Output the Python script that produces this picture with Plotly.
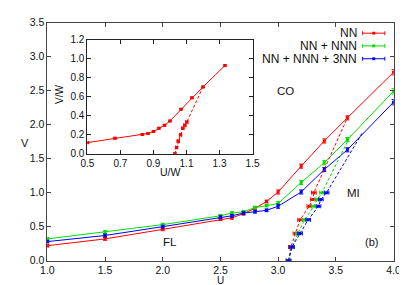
import plotly.graph_objects as go

# ---------------- data ----------------
U_main = [1.0, 1.5, 2.0, 2.5, 2.6, 2.7, 2.8, 2.9, 3.0, 3.2, 3.4, 3.6, 4.0]
V_nn = [0.22, 0.32, 0.46, 0.61, 0.63, 0.69, 0.77, 0.87, 1.01, 1.39, 1.76, 2.10, 2.77]
V_nnn = [0.32, 0.42, 0.53, 0.66, 0.70, 0.72, 0.78, 0.81, 0.84, 1.15, 1.44, 1.78, 2.49]
V_3nn = [0.28, 0.37, 0.50, 0.64, 0.66, 0.70, 0.72, 0.74, 0.80, 1.01, 1.34, 1.63, 2.33]
V_err = [0.02, 0.02, 0.02, 0.02, 0.02, 0.02, 0.02, 0.02, 0.03, 0.03, 0.03, 0.03, 0.04]

V_mi = [0.0, 0.2, 0.4, 0.6, 0.8, 0.9, 1.0]
U_mi_nn = [3.09, 3.11, 3.15, 3.19, 3.27, 3.30, 3.31]
U_mi_nnn = [3.09, 3.12, 3.17, 3.23, 3.31, 3.34, 3.38]
U_mi_3nn = [3.09, 3.12, 3.19, 3.26, 3.35, 3.37, 3.42]
U_mi_err = [0.02, 0.02, 0.02, 0.02, 0.02, 0.02, 0.02]
# where the dashed boundaries join the CO lines
U_end = {"nn": 3.6, "nnn": 3.63, "3nn": 3.73}
V_end = {"nn": 2.10, "nnn": 1.85, "3nn": 1.88}

UW_in = [0.5, 0.667, 0.833, 0.867, 0.9, 0.933, 0.967, 1.0, 1.067, 1.133, 1.2, 1.333]
VW_in = [0.118, 0.165, 0.205, 0.215, 0.235, 0.27, 0.30, 0.346, 0.47, 0.59, 0.705, 0.93]
UW_in_mi = [1.03, 1.04, 1.05, 1.064, 1.078, 1.09, 1.102, 1.2]
VW_in_mi = [0.0, 0.067, 0.135, 0.2, 0.27, 0.30, 0.335, 0.705]

series_names = ["NN", "NN + NNN", "NN + NNN + 3NN"]
colors = ["#ff0000", "#00e000", "#0000ff"]

x_ticks = [1.0, 1.5, 2.0, 2.5, 3.0, 3.5, 4.0]
y_ticks = [0.0, 0.5, 1.0, 1.5, 2.0, 2.5, 3.0, 3.5]
xi_ticks = [0.5, 0.7, 0.9, 1.1, 1.3, 1.5]
yi_ticks = [0.0, 0.2, 0.4, 0.6, 0.8, 1.0, 1.2]

FONT = "Liberation Sans, Arial, Helvetica, sans-serif"

fig = go.Figure()

# ---------------- main panel ----------------
for V, col in zip([V_nn, V_nnn, V_3nn], colors):
    fig.add_trace(go.Scatter(
        x=U_main, y=V, mode="lines+markers",
        line=dict(color=col, width=1),
        marker=dict(symbol="square", size=3, color=col),
        error_y=dict(type="data", array=V_err, color=col, thickness=1, width=2),
        showlegend=False, xaxis="x", yaxis="y"))

for Ux, key, col in zip([U_mi_nn, U_mi_nnn, U_mi_3nn], ["nn", "nnn", "3nn"], colors):
    xs = Ux + [U_end[key]]
    ys = V_mi + [V_end[key]]
    fig.add_trace(go.Scatter(
        x=xs, y=ys, mode="lines",
        line=dict(color=col, width=1, dash="3px,2px"),
        showlegend=False, xaxis="x", yaxis="y"))
    fig.add_trace(go.Scatter(
        x=Ux, y=V_mi, mode="markers",
        marker=dict(symbol="square", size=3, color=col),
        error_x=dict(type="data", array=U_mi_err, color=col, thickness=1, width=2),
        showlegend=False, xaxis="x", yaxis="y"))

# ---------------- inset ----------------
fig.add_trace(go.Scatter(
    x=UW_in, y=VW_in, mode="lines+markers",
    line=dict(color=colors[0], width=1),
    marker=dict(symbol="square", size=3, color=colors[0]),
    error_y=dict(type="constant", value=0.008, color=colors[0], thickness=1, width=2),
    showlegend=False, xaxis="x2", yaxis="y2"))
fig.add_trace(go.Scatter(
    x=UW_in_mi, y=VW_in_mi, mode="lines",
    line=dict(color=colors[0], width=1, dash="3px,2px"),
    showlegend=False, xaxis="x2", yaxis="y2"))
fig.add_trace(go.Scatter(
    x=UW_in_mi[:-1], y=VW_in_mi[:-1], mode="markers",
    marker=dict(symbol="square", size=3, color=colors[0]),
    error_x=dict(type="constant", value=0.007, color=colors[0], thickness=1, width=2),
    showlegend=False, xaxis="x2", yaxis="y2"))

W, H = 407, 285
def px(x):
    return x / W
def py(y):
    return 1 - y / H

def axis_style(size, lc):
    return dict(showgrid=False, zeroline=False, showline=True, linecolor=lc,
                linewidth=1, mirror="ticks", ticks="inside", ticklen=4,
                tickcolor=lc, tickformat=".1f",
                tickfont=dict(family=FONT, size=size, color="#111"))

fig.update_layout(
    width=W, height=H,
    margin=dict(l=0, r=0, t=0, b=0),
    paper_bgcolor="white", plot_bgcolor="white",
    font=dict(family=FONT, size=10, color="#111"),
    xaxis=dict(domain=[px(33.5), px(392)], range=[1.0, 4.0], tickvals=x_ticks,
               anchor="y", **axis_style(10.5, "#444")),
    yaxis=dict(domain=[py(257.5), py(9)], range=[0.0, 3.5], tickvals=y_ticks,
               anchor="x", **axis_style(10.5, "#444")),
    xaxis2=dict(domain=[px(75), px(246)], range=[0.5, 1.5], tickvals=xi_ticks,
                anchor="y2", **axis_style(10, "#222")),
    yaxis2=dict(domain=[py(146), py(27)], range=[0.0, 1.2], tickvals=yi_ticks,
                anchor="x2", **axis_style(10, "#222")),
)

ann = []
def text(x, y, s, xref="x", yref="y", size=11, **kw):
    ann.append(dict(x=x, y=y, xref=xref, yref=yref, text=s, showarrow=False,
                    xanchor="center", yanchor="middle",
                    font=dict(family=FONT, size=size, color="#111"), **kw))

# axis titles
text(px(10), py(135), "V", xref="paper", yref="paper", size=11)
text(px(213), py(278), "U", xref="paper", yref="paper", size=10)
text(px(46), py(84), "V/W", xref="paper", yref="paper", size=10, textangle=-90)
text(px(161), py(165), "U/W", xref="paper", yref="paper", size=10.5)
# region labels
text(3.06, 2.49, "CO", size=11.5)
text(3.65, 0.99, "MI", size=11.5)
text(2.06, 0.28, "FL", size=11.5)
text(3.81, 0.28, "(b)", size=11)

# legend (text right-aligned, sample line on the right)
shapes = []
leg_y = [20, 33.3, 46.7]
for name, col, ly in zip(series_names, colors, leg_y):
    ann.append(dict(x=px(356), y=py(ly), xref="paper", yref="paper", text=name,
                    showarrow=False, xanchor="right", yanchor="middle",
                    font=dict(family=FONT, size=12, color="#111")))
    shapes.append(dict(type="line", xref="paper", yref="paper",
                       x0=px(360), x1=px(383), y0=py(ly), y1=py(ly),
                       line=dict(color=col, width=1)))
    for xe in (360, 383):
        shapes.append(dict(type="line", xref="paper", yref="paper",
                           x0=px(xe), x1=px(xe), y0=py(ly - 2), y1=py(ly + 2),
                           line=dict(color=col, width=1)))
    shapes.append(dict(type="rect", xref="paper", yref="paper",
                       x0=px(370), x1=px(373), y0=py(ly - 1.5), y1=py(ly + 1.5),
                       line=dict(color=col, width=0), fillcolor=col))

fig.update_layout(annotations=ann, shapes=shapes)

fig.write_html("out.html")
